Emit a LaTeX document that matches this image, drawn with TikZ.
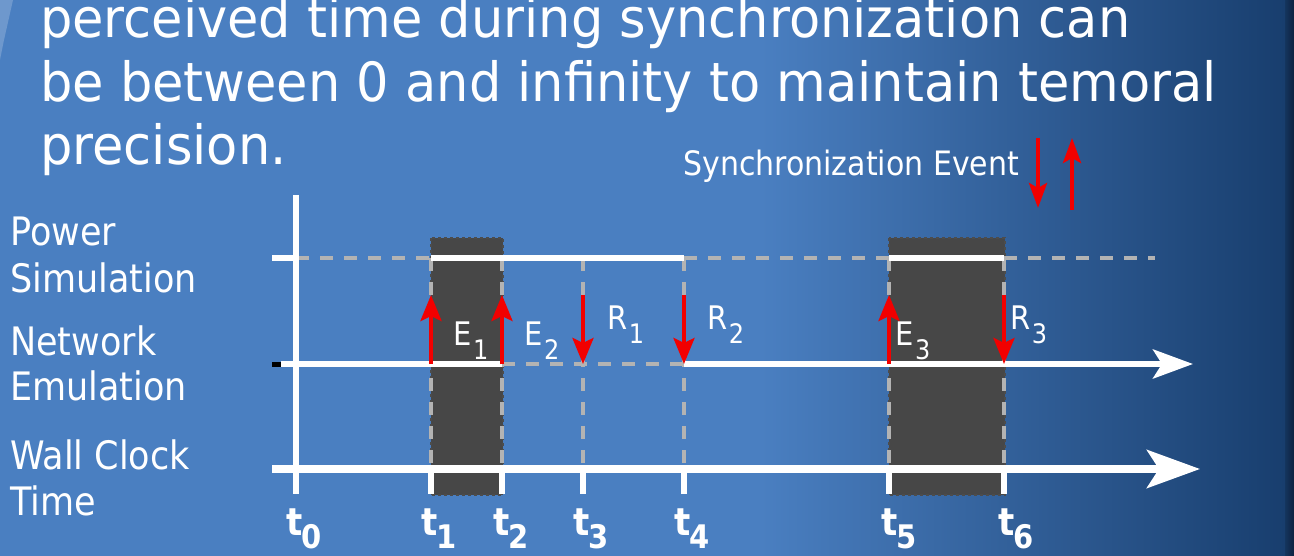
\documentclass[tikz,border=0pt]{standalone}
\usepackage{graphicx}
\usepackage{fontspec}
\setmainfont{DejaVu Sans}
\usetikzlibrary{arrows.meta,calc}
\definecolor{slidebg}{HTML}{4A7FC1}
\definecolor{slidedark}{HTML}{183E6E}
\definecolor{slideedge}{HTML}{0C2240}
\definecolor{syncgrey}{HTML}{B3B3B3}
\definecolor{syncbox}{HTML}{474747}
\definecolor{syncred}{HTML}{F20000}
\newcommand{\tallbox}[1]{\scalebox{1}[1.12]{#1}}
\newcommand{\subl}[2]{\tallbox{#1\kern1.5pt\raisebox{-13pt}{\fontsize{24}{24}\selectfont #2}}}
\newcommand{\subt}[1]{\tallbox{\textbf{t}\kern-1pt\raisebox{-12pt}{\fontsize{29}{29}\selectfont #1}}}

\begin{document}
\begin{tikzpicture}[x=1pt,y=-1pt,
  tline/.style={white,line width=6pt},
  gap/.style={syncgrey,line width=4pt,dash pattern=on 13pt off 11pt},
  busy/.style={fill=syncbox,draw=black!70,dashed,line width=1.5pt},
  evt/.style={syncred,line width=4pt,-{Stealth[length=26pt,width=21pt,inset=5pt]}},
  lbl/.style={white,inner sep=0pt,anchor=base west,font=\fontsize{29}{29}\selectfont},
  tlbl/.style={white,inner sep=0pt,anchor=base west,font=\fontsize{34}{34}\selectfont\bfseries},
  rowlbl/.style={white,inner sep=0pt,anchor=base west,font=\fontsize{35}{35}\selectfont},
  title/.style={white,inner sep=0pt,anchor=base west,font=\fontsize{51}{51}\selectfont}
]
% background
\useasboundingbox (0,0) rectangle (1294,556);
\clip (0,0) rectangle (1294,556);
\fill[slidebg] (0,0) rectangle (1294,556);
\shade[left color=slidebg,right color=slidedark] (760,0) rectangle (1285,556);
\shade[left color=slidedark!85!black,right color=slideedge] (1285,0) rectangle (1294,556);
\fill[white,opacity=0.2] (0,0) -- (13,0) -- (4,40) -- (0,60) -- cycle;

% title
\node[title] (ln1) at (40,38) {\scalebox{1}[1.06]{perceived time during synchronization can}};
\node[title] (ln2) at (40,102) {\scalebox{1}[1.06]{be between 0 and infinity to maintain temoral}};
\node[title] (ln3) at (40,165) {\scalebox{1}[1.06]{precision.}};

% row labels
\node[rowlbl] (pw) at (10,246) {\tallbox{Power}};
\node[rowlbl] (sim) at (10,293) {\tallbox{Simulation}};
\node[rowlbl] (nw) at (10,355) {\tallbox{Network}};
\node[rowlbl] (emu) at (10,400) {\tallbox{Emulation}};
\node[rowlbl] (wall) at (10,469) {\tallbox{Wall Clock}};
\node[rowlbl] (tm) at (10,515) {\tallbox{Time}};

% time points
\foreach \n/\x in {0/296,1/431,2/502,3/583,4/684,5/889,6/1004}{
  \coordinate (ps\n) at (\x,258);
  \coordinate (ev\n) at (\x,295);
  \coordinate (ne\n) at (\x,364);
  \coordinate (wc\n) at (\x,469);
  \coordinate (tk\n) at (\x,494);
}
\coordinate (psstart) at (272,258);
\coordinate (psend) at (1155,258);
\coordinate (nestart) at (272,364);
\coordinate (nemark) at (281,364);
\coordinate (neend) at (1193,364);
\coordinate (wcstart) at (272,469);
\coordinate (wcend) at (1200,469);
\coordinate (axtop) at (296,195);

% busy periods
\draw[busy] (431,238) rectangle (503,495);
\draw[busy] (889,238) rectangle (1005,495);

% idle segments
\foreach \n in {1,...,6}
  \draw[gap] (ps\n) -- (wc\n);
\draw[gap] (ps0) -- (ps1);
\draw[gap] (ps4) -- (ps5);
\draw[gap] (ps6) -- (psend);
\draw[gap] (ne2) -- (ne4);

% time lines
\draw[tline] (axtop) -- (tk0);
\draw[tline] (psstart) -- (ps0);
\draw[tline] (ps1) -- (ps4);
\draw[tline] (ps5) -- (ps6);
\draw[black,line width=5pt] (nestart) -- (nemark);
\draw[tline] (nemark) -- (ne2);
\draw[tline,-{Stealth[length=40pt,width=29pt,inset=9pt]}] (ne4) -- (neend);
\draw[tline,line width=7.5pt,-{Stealth[length=53pt,width=38pt,inset=12pt]}] (wcstart) -- (wcend);
\foreach \n in {1,...,6}
  \draw[tline] (wc\n) -- (tk\n);

% synchronization events
\draw[evt] (ne1) -- (ev1);
\draw[evt] (ne2) -- (ev2);
\draw[evt] (ev3) -- (ne3);
\draw[evt] (ev4) -- (ne4);
\draw[evt] (ne5) -- (ev5);
\draw[evt] (ev6) -- (ne6);

\node[lbl] (e1) at (453,345) {\subl{E}{1}};
\node[lbl] (e2) at (524,345) {\subl{E}{2}};
\node[lbl] (r1) at (607,329) {\subl{R}{1}};
\node[lbl] (r2) at (707,329) {\subl{R}{2}};
\node[lbl] (e3) at (895,345) {\subl{E}{3}};
\node[lbl] (r3) at (1010,329) {\subl{R}{3}};

% time labels
\foreach \n/\x in {0/286,1/421,2/493,3/573,4/674,5/881,6/998}
  \node[tlbl] (lt\n) at (\x,535) {\subt{\n}};

% legend
\node[white,inner sep=0pt,anchor=base west,font=\fontsize{30}{30}\selectfont] (sync) at (683,176) {\tallbox{Synchronization Event}};
\coordinate (lgd1) at (1038,138);
\coordinate (lgd2) at (1038,208);
\coordinate (lgu1) at (1072,210);
\coordinate (lgu2) at (1072,138);
\draw[evt,-{Stealth[length=25pt,width=18pt,inset=5pt]}] (lgd1) -- (lgd2);
\draw[evt,-{Stealth[length=25pt,width=18pt,inset=5pt]}] (lgu1) -- (lgu2);
\end{tikzpicture}
\end{document}
